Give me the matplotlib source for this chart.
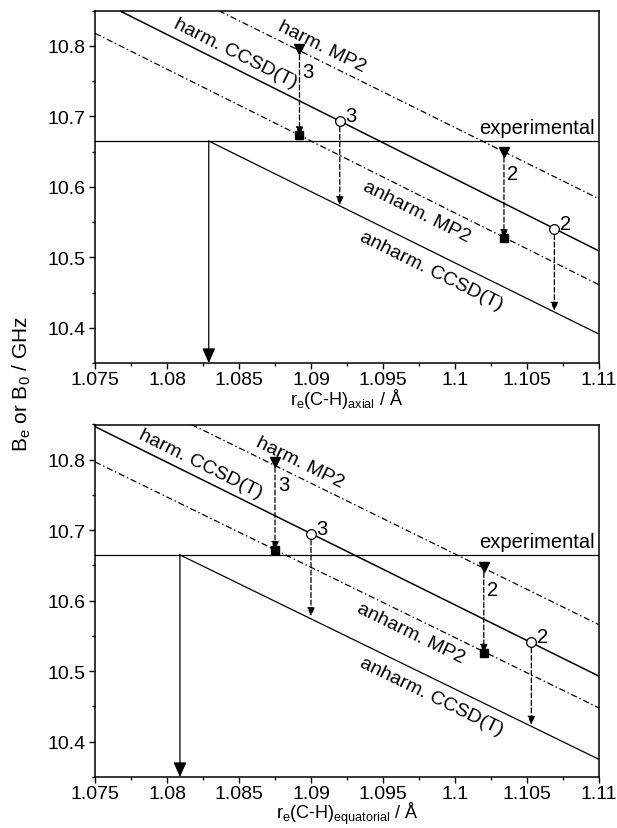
import numpy as np
import matplotlib
matplotlib.use("Agg")
import matplotlib.pyplot as plt
from matplotlib.ticker import MultipleLocator, FuncFormatter

plt.rcParams['font.family'] = ['Liberation Sans', 'DejaVu Sans']
plt.rcParams['mathtext.fontset'] = 'custom'
plt.rcParams['mathtext.rm'] = 'Liberation Sans'
plt.rcParams['mathtext.it'] = 'Liberation Sans:italic'

# experimental B0 value (GHz)
exp_B = 10.665

# --- axial panel ---
ax_harm_cc_x = [1.0768, 1.11]
ax_harm_cc_y = [10.849, 10.509]
ax_harm_mp2_x = [1.0836, 1.11]
ax_harm_mp2_y = [10.85, 10.583]
ax_anh_mp2_x = [1.075, 1.11]
ax_anh_mp2_y = [10.818, 10.461]
ax_anh_cc_x = [1.0829, 1.11]
ax_anh_cc_y = [10.665, 10.391]
ax_mp2_r = [1.0892, 1.1034]        # triangles / squares (MP2)
ax_mp2_harm = [10.795, 10.650]
ax_mp2_anh = [10.673, 10.527]
ax_cc_r = [1.0920, 1.1069]         # circles (CCSD(T))
ax_cc_harm = [10.693, 10.540]
ax_cc_anh = [10.574, 10.424]
ax_r_exp = 1.0829

# --- equatorial panel ---
eq_harm_cc_x = [1.075, 1.11]
eq_harm_cc_y = [10.847, 10.493]
eq_harm_mp2_x = [1.0817, 1.11]
eq_harm_mp2_y = [10.85, 10.566]
eq_anh_mp2_x = [1.075, 1.11]
eq_anh_mp2_y = [10.797, 10.448]
eq_anh_cc_x = [1.0809, 1.11]
eq_anh_cc_y = [10.665, 10.375]
eq_mp2_r = [1.0875, 1.1020]
eq_mp2_harm = [10.797, 10.648]
eq_mp2_anh = [10.672, 10.526]
eq_cc_r = [1.0900, 1.1053]
eq_cc_harm = [10.694, 10.541]
eq_cc_anh = [10.578, 10.424]
eq_r_exp = 1.0809

basis_labels = ["3", "2"]

FS = 14.5
LFS = 14

fig = plt.figure(figsize=(6.17, 8.29), dpi=100)
ax1 = fig.add_axes([95/617, 1-364/829, 504/617, (364-11.7)/829])
ax2 = fig.add_axes([95/617, 1-778/829, 504/617, (778-425.5)/829])

dashdot = (0, (5, 2.2, 1.2, 2.2))


def line_label(ax, text, xs, ys, xpos, dist):
    slope = (ys[1]-ys[0])/(xs[1]-xs[0])
    ypos = ys[0] + slope*(xpos-xs[0])
    ang = np.degrees(np.arctan2(ys[1]-ys[0], xs[1]-xs[0]))
    ang_s = ax.transData.transform_angles(np.array([ang]), np.array([[xpos, ypos]]))[0]
    nx, ny = -np.sin(np.radians(ang_s)), np.cos(np.radians(ang_s))
    ax.annotate(text, xy=(xpos, ypos), xytext=(nx*dist, ny*dist), textcoords='offset points',
                rotation=ang_s, rotation_mode='anchor', ha='center', va='center', fontsize=LFS)


def panel(ax, hcx, hcy, hmx, hmy, amx, amy, acx, acy, mr, mh, ma, cr, ch, ca, rexp, xlabel, lpos):
    ax.set_xlim(1.075, 1.11)
    ax.set_ylim(10.35, 10.85)
    ax.plot(hcx, hcy, color='k', lw=1.1)
    ax.plot(acx, acy, color='k', lw=0.9)
    ax.plot(hmx, hmy, color='k', lw=0.9, linestyle=dashdot)
    ax.plot(amx, amy, color='k', lw=0.9, linestyle=dashdot)
    ax.axhline(exp_B, color='k', lw=0.9)
    ax.text(1.1097, exp_B + 0.006, "experimental", ha='right', va='bottom', fontsize=FS)

    # vertical arrow from experimental value to the axis
    ax.annotate("", xy=(rexp, 10.35), xytext=(rexp, exp_B),
                arrowprops=dict(arrowstyle='-|>,head_length=0.9,head_width=0.4', color='k', lw=0.9,
                                shrinkA=0, shrinkB=0), annotation_clip=False)

    # harmonic -> anharmonic arrows
    for r, y0, y1 in list(zip(mr, mh, ma)) + list(zip(cr, ch, ca)):
        ax.annotate("", xy=(r, y1), xytext=(r, y0),
                    arrowprops=dict(arrowstyle='-|>,head_length=0.5,head_width=0.22', color='k', lw=0.9,
                                    linestyle=(0, (4, 2)), shrinkA=4, shrinkB=0))

    ax.plot(mr, mh, 'v', color='k', markersize=7, zorder=5)
    ax.plot(mr, ma, 's', color='k', markersize=6, zorder=5)
    ax.plot(cr, ch, 'o', color='k', markerfacecolor='white', markersize=7, markeredgewidth=0.9, zorder=5)

    for lab, r, y in zip(basis_labels, mr, mh):
        ax.annotate(lab, xy=(r, y), xytext=(2, -16), textcoords='offset points', fontsize=FS, ha='left', va='center')
    for lab, r, y in zip(basis_labels, cr, ch):
        ax.annotate(lab, xy=(r, y), xytext=(4, 4), textcoords='offset points', fontsize=FS, ha='left', va='center')

    line_label(ax, "harm. CCSD(T)", hcx, hcy, lpos[0], 10)
    line_label(ax, "harm. MP2", hmx, hmy, lpos[1], 10)
    line_label(ax, "anharm. MP2", amx, amy, lpos[2], -11)
    line_label(ax, "anharm. CCSD(T)", acx, acy, lpos[3], -12)

    ax.xaxis.set_major_locator(MultipleLocator(0.005))
    ax.xaxis.set_minor_locator(MultipleLocator(0.0025))
    ax.yaxis.set_major_locator(MultipleLocator(0.1))
    ax.yaxis.set_minor_locator(MultipleLocator(0.05))
    ax.xaxis.set_major_formatter(FuncFormatter(lambda v, p: f"{round(v, 4):g}"))
    ax.yaxis.set_major_formatter(FuncFormatter(lambda v, p: f"{round(v, 3):g}"))
    ax.tick_params(which='major', direction='out', length=4, width=1, labelsize=14, pad=3,
                   top=False, right=False)
    ax.tick_params(axis='x', which='major', pad=1.5)
    ax.tick_params(which='minor', direction='out', length=2.2, width=1, top=False, right=False)
    for s in ax.spines.values():
        s.set_linewidth(1.1)
    ax.set_xlabel(xlabel, fontsize=13, labelpad=-1)


panel(ax1, ax_harm_cc_x, ax_harm_cc_y, ax_harm_mp2_x, ax_harm_mp2_y, ax_anh_mp2_x, ax_anh_mp2_y,
      ax_anh_cc_x, ax_anh_cc_y, ax_mp2_r, ax_mp2_harm, ax_mp2_anh, ax_cc_r, ax_cc_harm, ax_cc_anh,
      ax_r_exp, r"r$_\mathrm{e}$(C-H)$_\mathrm{axial}$ / Å", [1.0843, 1.0903, 1.0978, 1.0989])
panel(ax2, eq_harm_cc_x, eq_harm_cc_y, eq_harm_mp2_x, eq_harm_mp2_y, eq_anh_mp2_x, eq_anh_mp2_y,
      eq_anh_cc_x, eq_anh_cc_y, eq_mp2_r, eq_mp2_harm, eq_mp2_anh, eq_cc_r, eq_cc_harm, eq_cc_anh,
      eq_r_exp, r"r$_\mathrm{e}$(C-H)$_\mathrm{equatorial}$ / Å", [1.0819, 1.0888, 1.0974, 1.0989])

fig.text(0.036, 1-384/829, r"B$_\mathrm{e}$ or B$_\mathrm{0}$ / GHz", rotation=90, ha='center', va='center',
         fontsize=15)

fig.savefig("out.png", dpi=100)
